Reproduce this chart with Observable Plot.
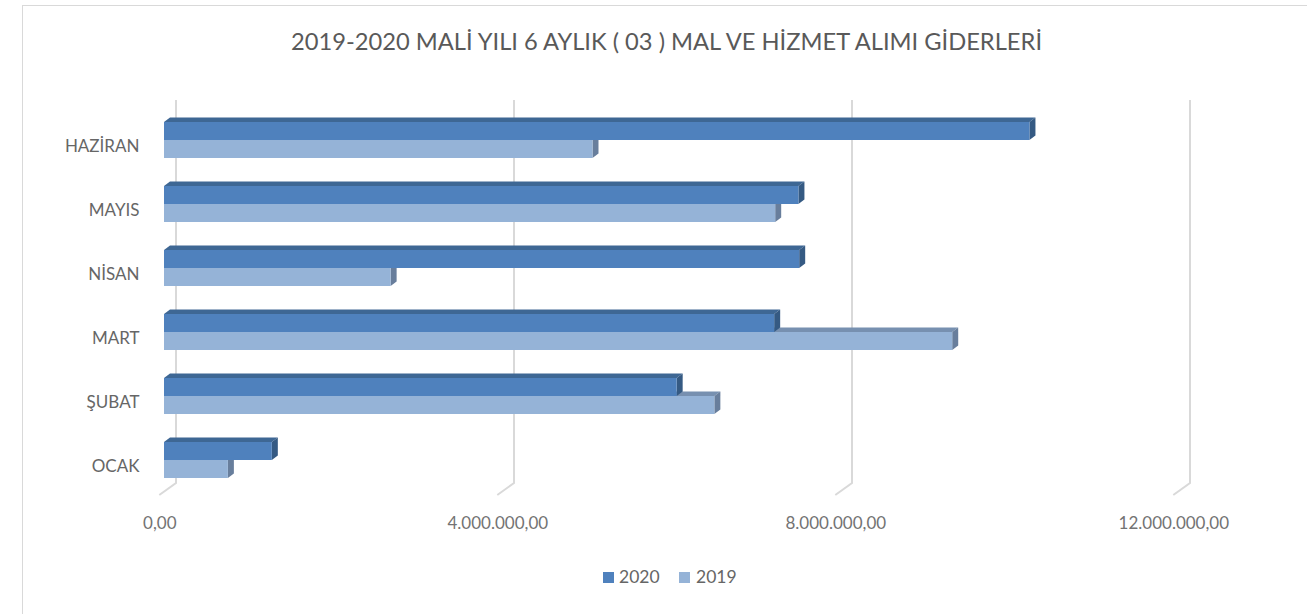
<!DOCTYPE html>
<html>
<head>
<meta charset="utf-8">
<script src="https://cdn.jsdelivr.net/npm/d3@7"></script>
<script src="https://cdn.jsdelivr.net/npm/@observablehq/plot@0.6"></script>
<style>
  html, body { margin: 0; padding: 0; background: #fff; }
  body { width: 1307px; height: 614px; position: relative; overflow: hidden; font-family: Lato, "Open Sans", sans-serif; }
  #frame { position: absolute; left: 22px; top: 5px; width: 1400px; height: 700px; border-left: 1px solid #d9d9d9; border-top: 1px solid #d9d9d9; }
  #chart { position: absolute; left: 0; top: 0; }
  #title { position: absolute; left: 24px; width: 1285px; top: 29px; text-align: center; font-size: 23.7px; line-height: 24px; color: #595959; white-space: nowrap; }
  .sw { position: absolute; width: 11px; height: 11px; top: 572px; }
  .lt { position: absolute; top: 568px; font-size: 17.5px; line-height: 17px; color: #666; }
</style>
</head>
<body>
<div id="frame"></div>
<div id="chart"></div>
<div id="title">2019-2020 MALİ YILI 6 AYLIK ( 03 ) MAL VE HİZMET ALIMI GİDERLERİ</div>
<div class="sw" style="left:603px;background:#4F81BD"></div>
<div class="lt" style="left:619px">2020</div>
<div class="sw" style="left:679px;background:#95B3D7"></div>
<div class="lt" style="left:696px">2019</div>
<script>
const months = ["HAZİRAN", "MAYIS", "NİSAN", "MART", "ŞUBAT", "OCAK"];
const v2020 = [10242000, 7508000, 7517000, 7221000, 6067000, 1276000];
const v2019 = [5071000, 7233000, 2682000, 9328000, 6513000, 756000];
const years = ["2020", "2019"];
const xTicks = [0, 4000000, 8000000, 12000000];

const rows2020 = months.map((m, i) => ({month: m, year: years[0], value: v2020[i]}));
const rows2019 = months.map((m, i) => ({month: m, year: years[1], value: v2019[i]}));

const trFormat = d3.formatLocale({decimal: ",", thousands: ".", grouping: [3], currency: ["", ""]}).format(",.2f");

const DX = 6, DY = 4.5;

function faces(data, lower, topColor, sideColor) {
  return (index, scales) => {
    const g = d3.create("svg:g");
    const bw = scales.y.bandwidth();
    for (const d of data) {
      const a = scales.x(0), b = scales.x(d.value);
      const t = scales.y(d.month) + (lower ? bw / 2 : 0);
      const bot = t + bw / 2;
      g.append("path").attr("fill", topColor)
        .attr("d", `M${a},${t}L${a + DX},${t - DY}L${b + DX},${t - DY}L${b},${t}Z`);
      g.append("path").attr("fill", sideColor)
        .attr("d", `M${b},${t}L${b + DX},${t - DY}L${b + DX},${bot - DY}L${b},${bot}Z`);
    }
    return g.node();
  };
}

function grid(index, scales, values, dims) {
  const g = d3.create("svg:g").attr("fill", "none").attr("stroke", "#d9d9d9").attr("stroke-width", 2);
  const top = dims.marginTop + 6;
  const bottom = dims.height - dims.marginBottom - 23;
  for (const v of xTicks) {
    const x = scales.x(v);
    g.append("path").attr("d", `M${x + 12},${top}V${bottom}L${x - 4.7},${bottom + 12}`);
  }
  return g.node();
}

const chart = Plot.plot({
  width: 1307,
  height: 560,
  marginLeft: 164,
  marginRight: 129,
  marginTop: 94,
  marginBottom: 54,
  style: {fontFamily: "Lato, 'Open Sans', sans-serif", fontSize: "17px", color: "#595959", background: "transparent", overflow: "visible"},
  x: {domain: [0, 12000000]},
  y: {domain: months, padding: 0.4375},
  marks: [
    grid,
    faces(rows2019, true, "#7790B0", "#687E9C"),
    Plot.barX(rows2019, {x: "value", y: "month", fill: "#95B3D7", insetTop: 18}),
    faces(rows2020, false, "#3E6794", "#355A83"),
    Plot.barX(rows2020, {x: "value", y: "month", fill: "#4F81BD", insetBottom: 18}),
    Plot.axisX(xTicks, {tickSize: 0, tickPadding: 10, dx: -4.7, tickFormat: trFormat, label: null, fill: "#737373"}),
    Plot.axisY({tickSize: 0, tickPadding: 25, dy: 6, label: null, fill: "#666666"})
  ]
});
document.getElementById("chart").appendChild(chart);
</script>
</body>
</html>
